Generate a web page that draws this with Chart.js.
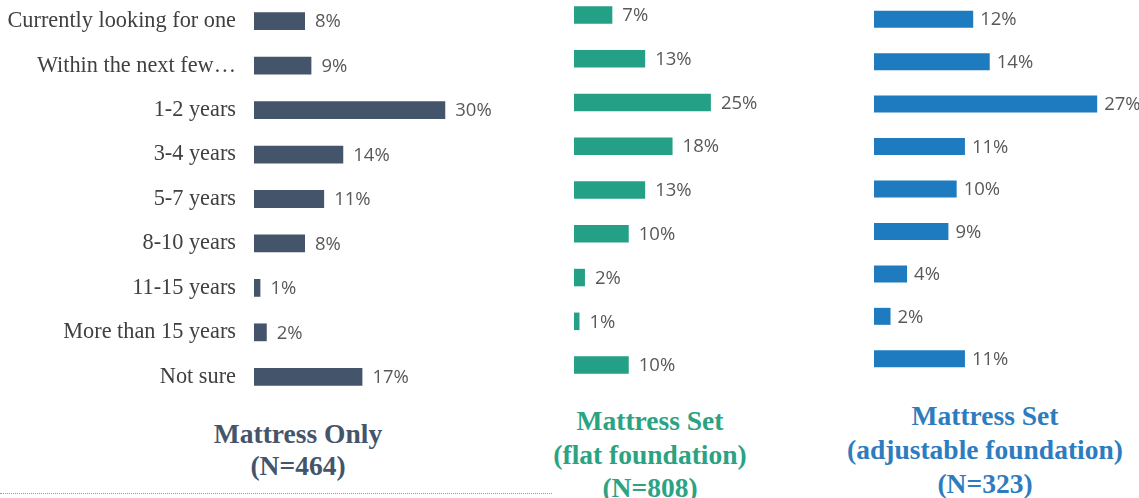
<!DOCTYPE html>
<html>
<head>
<meta charset="utf-8">
<script src="https://cdn.jsdelivr.net/npm/chart.js@4"></script>
<style>
  body { margin: 0; background: #fff; width: 1139px; height: 498px; overflow: hidden; position: relative; }
  canvas { position: absolute; }
  .title { position: absolute; text-align: center; font-family: "Liberation Serif", serif; font-weight: bold; font-size: 27.5px; white-space: nowrap; }
  #dots { position: absolute; left: 0; top: 493px; width: 552px; border-top: 1px dotted #999; }
</style>
</head>
<body>
<canvas id="chart1" width="560" height="400" style="left:0;top:-1px"></canvas>
<canvas id="chart2" width="300" height="394" style="left:560px;top:-7px"></canvas>
<canvas id="chart3" width="279" height="382" style="left:860px;top:-2px"></canvas>

<div class="title" style="left:148px;top:418px;width:300px;line-height:32px;color:#44546A">Mattress Only<br>(N=464)</div>
<div class="title" style="left:500px;top:404px;width:300px;line-height:33.5px;color:#2BA383">Mattress Set<br>(flat foundation)<br>(N=808)</div>
<div class="title" style="left:842px;top:399px;width:286px;line-height:34px;color:#2E7CC0">Mattress Set<br>(adjustable foundation)<br>(N=323)</div>
<div id="dots"></div>

<script>
// DATA
const categories = ['Currently looking for one', 'Within the next few…', '1-2 years', '3-4 years', '5-7 years', '8-10 years', '11-15 years', 'More than 15 years', 'Not sure'];
const mattressOnly = [8, 9, 30, 14, 11, 8, 1, 2, 17];
const flatFoundation = [7, 13, 25, 18, 13, 10, 2, 1, 10];
const adjustableFoundation = [12, 14, 27, 11, 10, 9, 4, 2, 11];

// percent labels next to the bars
function valueLabels(gap) {
  return {
    id: 'valueLabels',
    afterDatasetsDraw(chart) {
      let ctx = chart.ctx;
      let meta = chart.getDatasetMeta(0);
      ctx.save();
      ctx.font = '18.5px "Open Sans"';
      ctx.fillStyle = '#595959';
      ctx.textBaseline = 'middle';
      meta.data.forEach((bar, i) => {
        ctx.fillText(chart.data.datasets[0].data[i] + '%', bar.x + gap, bar.y + 1);
      });
      ctx.restore();
    }
  };
}

function makeChart(id, values, color, max, padding, showLabels, gap) {
  return new Chart(document.getElementById(id), {
    type: 'bar',
    data: {
      labels: categories,
      datasets: [{
        data: values,
        backgroundColor: color,
        categoryPercentage: 1,
        barPercentage: 0.4
      }]
    },
    options: {
      indexAxis: 'y',
      responsive: false,
      animation: false,
      layout: { padding: padding },
      plugins: { legend: { display: false }, tooltip: { enabled: false } },
      scales: {
        x: { display: false, min: 0, max: max },
        y: {
          display: showLabels,
          grid: { display: false },
          border: { display: false },
          ticks: {
            padding: 10,
            color: '#404040',
            font: { family: 'Liberation Serif', size: 22.3 }
          },
          afterFit: (scale) => {
            if (!showLabels) return;
            scale.width = 254;
            scale.paddingTop = 0;
            scale.paddingBottom = 0;
          }
        }
      }
    },
    plugins: [valueLabels(gap)]
  });
}

makeChart('chart1', mattressOnly, '#44546A', 40, { left: 0, right: 51, top: 0, bottom: 0 }, true, 10);
makeChart('chart2', flatFoundation, '#23A086', 40, { left: 14, right: 67, top: 0, bottom: 0 }, false, 10);
makeChart('chart3', adjustableFoundation, '#1F7BC0', 30, { left: 14, right: 17, top: 0, bottom: 0 }, false, 7);
</script>
</body>
</html>
